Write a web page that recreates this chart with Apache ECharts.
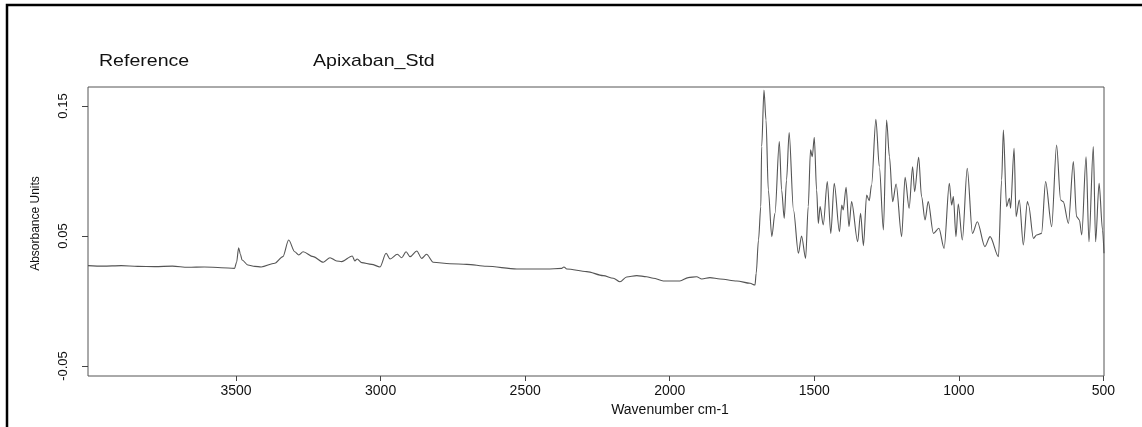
<!DOCTYPE html>
<html>
<head>
<meta charset="utf-8">
<script src="https://cdn.jsdelivr.net/npm/echarts@6/dist/echarts.min.js"></script>
<style>
  html, body { margin: 0; padding: 0; background: #fff; }
  #chart { width: 1142px; height: 427px; }
</style>
</head>
<body>
<div id="chart"></div>
<script>
// IR spectrum of Apixaban standard: wavenumber (cm-1) and absorbance
const wavenumbers = [
  4012, 3960, 3897, 3840, 3781, 3720, 3666, 3610, 3551, 3505,
  3498, 3491, 3485, 3479, 3459, 3435, 3413, 3366, 3338, 3318,
  3297, 3283, 3268, 3233, 3198, 3175, 3152, 3135, 3098, 3089,
  3081, 3065, 3031, 3002, 2981, 2967, 2942, 2927, 2912, 2898,
  2875, 2858, 2841, 2818, 2760, 2702, 2633, 2529, 2425, 2374,
  2366, 2356, 2287, 2230, 2195, 2172, 2149, 2114, 2080, 2057,
  2022, 1965, 1936, 1907, 1889, 1861, 1826, 1768, 1722, 1705,
  1701, 1693, 1685, 1682, 1674, 1667, 1659, 1647, 1636, 1621,
  1613, 1604, 1596, 1587, 1572, 1555, 1544, 1530, 1521, 1513,
  1507, 1500, 1492, 1486, 1480, 1469, 1455, 1443, 1431, 1413,
  1405, 1400, 1390, 1380, 1371, 1350, 1340, 1330, 1319, 1310,
  1302, 1287, 1275, 1261, 1250, 1240, 1229, 1217, 1198, 1186,
  1172, 1160, 1153, 1139, 1129, 1117, 1106, 1088, 1069, 1051,
  1033, 1025, 1019, 1010, 1002, 988, 971, 953, 936, 910,
  892, 863, 852, 846, 835, 825, 821, 809, 802, 791,
  777, 763, 759, 742, 731, 714, 700, 679, 662, 648,
  639, 621, 604, 593, 583, 575, 560, 550, 535, 527,
  515, 503, 498
];
const absorbance = [
  0.0272, 0.0268, 0.0272, 0.0266, 0.0264, 0.0268, 0.0259, 0.0262, 0.0256, 0.0251,
  0.0300, 0.0410, 0.0360, 0.0315, 0.0277, 0.0266, 0.0262, 0.0290, 0.0341, 0.0469,
  0.0379, 0.0354, 0.0379, 0.0341, 0.0298, 0.0333, 0.0308, 0.0303, 0.0346, 0.0308,
  0.0323, 0.0295, 0.0282, 0.0262, 0.0367, 0.0323, 0.0359, 0.0333, 0.0379, 0.0341,
  0.0385, 0.0328, 0.0359, 0.0298, 0.0287, 0.0282, 0.0267, 0.0246, 0.0246, 0.0251,
  0.0262, 0.0246, 0.0226, 0.0195, 0.0175, 0.0148, 0.0185, 0.0195, 0.0187, 0.0175,
  0.0154, 0.0154, 0.0180, 0.0187, 0.0169, 0.0180, 0.0169, 0.0154, 0.0136, 0.0123,
  0.0213, 0.0469, 0.0726, 0.1187, 0.1623, 0.1392, 0.0854, 0.0495, 0.0674, 0.1226,
  0.0854, 0.0636, 0.0931, 0.1295, 0.0700, 0.0367, 0.0500, 0.0328, 0.0726, 0.1162,
  0.1110, 0.1259, 0.0854, 0.0597, 0.0726, 0.0585, 0.0918, 0.0520, 0.0905, 0.0533,
  0.0738, 0.0700, 0.0874, 0.0572, 0.0764, 0.0456, 0.0674, 0.0426, 0.0815, 0.0772,
  0.0892, 0.1397, 0.1033, 0.0546, 0.1392, 0.1110, 0.0764, 0.0900, 0.0495, 0.0951,
  0.0713, 0.1033, 0.0841, 0.1105, 0.0803, 0.0623, 0.0764, 0.0520, 0.0559, 0.0405,
  0.0905, 0.0738, 0.0803, 0.0495, 0.0746, 0.0469, 0.1020, 0.0520, 0.0610, 0.0418,
  0.0495, 0.0341, 0.0931, 0.1315, 0.0726, 0.0790, 0.0713, 0.1174, 0.0649, 0.0777,
  0.0431, 0.0764, 0.0738, 0.0482, 0.0508, 0.0520, 0.0918, 0.0572, 0.1200, 0.0777,
  0.0764, 0.0597, 0.1072, 0.0649, 0.0623, 0.0508, 0.1110, 0.0456, 0.1187, 0.0456,
  0.0905, 0.0546, 0.0367
];
const xTicks = [3500, 3000, 2500, 2000, 1500, 1000, 500];
const yTicks = [-0.05, 0.05, 0.15];

const FONT = '"Liberation Sans", Arial, sans-serif';
const chart = echarts.init(document.getElementById('chart'), null, { renderer: 'canvas' });

chart.setOption({
  animation: false,
  backgroundColor: '#ffffff',
  grid: {
    left: 88, right: 38, top: 87, bottom: 51,
    show: true, borderColor: '#555', borderWidth: 1, backgroundColor: 'transparent'
  },
  xAxis: {
    type: 'value',
    inverse: true,
    min: 498,
    max: 4012,
    axisLine: { show: false, onZero: false },
    splitLine: { show: false },
    axisTick: { show: true, customValues: xTicks, length: 5, lineStyle: { color: '#444' } },
    axisLabel: {
      customValues: xTicks, color: '#111', fontSize: 14, fontFamily: FONT, margin: 8,
      formatter: (v) => String(v)
    },
    name: 'Wavenumber cm-1',
    nameLocation: 'middle',
    nameGap: 27,
    nameTextStyle: { color: '#111', fontSize: 14, fontFamily: FONT, padding: [0, 0, 0, 148] }
  },
  yAxis: {
    type: 'value',
    min: -0.0577,
    max: 0.1646,
    axisLine: { show: false, onZero: false },
    splitLine: { show: false },
    axisTick: { show: true, customValues: yTicks, length: 6, lineStyle: { color: '#444' } },
    axisLabel: {
      customValues: yTicks, rotate: 90, color: '#111', fontSize: 13, fontFamily: FONT, margin: 18,
      formatter: (v) => String(v)
    },
    name: 'Absorbance Units',
    nameLocation: 'middle',
    nameRotate: 90,
    nameGap: 46,
    nameTextStyle: { color: '#111', fontSize: 12, fontFamily: FONT, padding: [0, 0, 0, 16] }
  },
  graphic: [
    {
      type: 'rect', silent: true,
      shape: { x: 7, y: 5, width: 1160, height: 440 },
      style: { fill: 'none', stroke: '#000', lineWidth: 2.5 }
    },
    {
      type: 'text', left: 99, top: 53, scaleX: 1.15,
      style: { text: 'Reference', font: '17px ' + FONT, fill: '#111' }
    },
    {
      type: 'text', left: 313, top: 53, scaleX: 1.15,
      style: { text: 'Apixaban_Std', font: '17px ' + FONT, fill: '#111' }
    }
  ],
  series: [{
    type: 'line',
    data: wavenumbers.map((w, i) => [w, absorbance[i]]),
    symbol: 'none',
    smooth: 0.3,
    smoothMonotone: 'x',
    lineStyle: { color: '#555', width: 1.1 }
  }]
});
</script>
</body>
</html>
